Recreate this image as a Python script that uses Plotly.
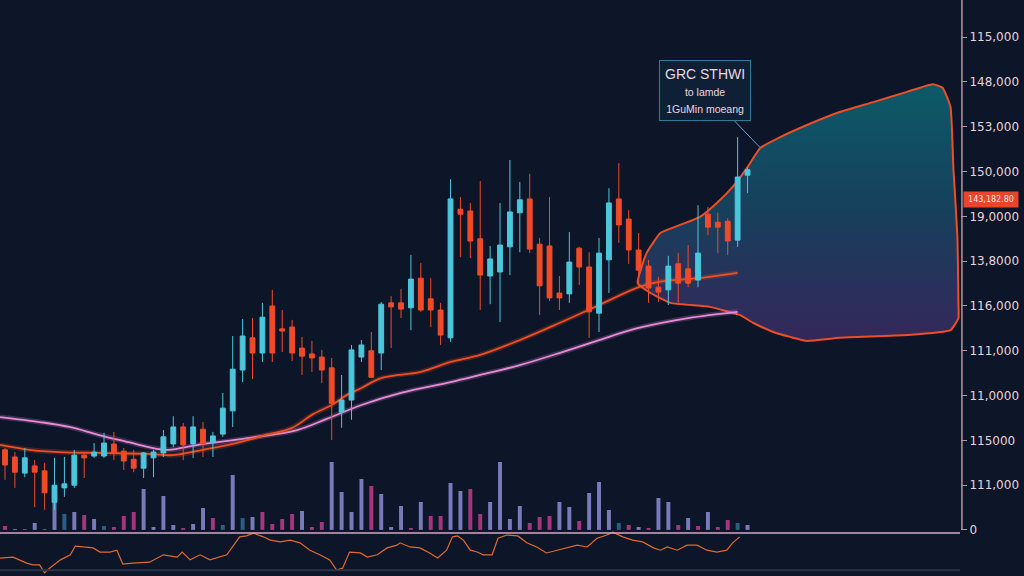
import plotly.graph_objects as go

# ---------------- data ----------------
candle_idx = list(range(76))
open_ = [17.9,16.3,12.7,14.3,13.2,6.2,9.4,10.0,16.7,16.5,16.5,19.2,17.6,15.8,13.8,16.1,17.2,19.2,23.0,19.2,
         22.5,19.6,21.4,26.6,35.7,42.9,39.5,50.0,44.9,45.3,40.6,39.3,38.6,36.2,26.3,29.0,38.6,40.0,39.5,50.7,
         50.7,49.6,56.2,51.6,49.1,42.9,71.6,71.2,65.0,56.7,57.6,63.2,70.8,73.9,63.8,63.4,52.9,52.7,62.9,58.7,
         48.4,60.3,73.9,69.4,62.5,58.9,54.2,53.6,59.4,58.3,55.8,70.5,68.7,68.9,64.7,79.2]
high = [18.3,17.4,18.3,15.6,15.0,16.1,16.3,17.9,17.2,19.4,21.7,21.9,18.3,17.9,17.4,17.9,22.3,25.4,23.9,25.4,
        24.1,21.9,30.6,43.3,47.1,47.3,50.7,53.6,49.1,46.9,43.1,42.2,40.2,38.4,34.6,41.3,42.4,44.2,50.9,52.2,
        53.8,61.4,59.6,56.2,50.7,78.3,74.3,73.0,77.9,63.4,73.0,82.6,77.7,79.5,65.2,74.3,56.7,66.5,63.2,62.0,
        65.2,76.3,81.9,71.4,66.3,60.3,56.5,61.2,61.8,63.6,72.5,72.1,70.8,69.6,87.7,81.0]
low = [11.2,9.4,11.8,5.1,4.5,4.5,7.4,9.4,11.6,16.1,16.1,15.6,13.4,12.9,11.6,11.8,16.3,18.5,15.6,16.1,
       16.3,16.3,20.8,23.0,33.0,33.7,37.5,37.5,39.7,37.7,34.6,35.3,32.8,20.1,22.8,24.6,37.5,33.9,35.7,40.6,
       47.3,44.6,48.7,45.3,41.3,42.0,60.9,60.7,49.1,50.4,46.4,56.9,62.0,61.8,48.0,51.1,49.1,50.7,54.7,42.9,
       44.2,52.9,64.1,59.4,55.1,50.7,50.9,50.2,50.2,54.2,54.2,65.8,61.8,61.4,63.2,75.2]
close = [14.5,12.9,16.1,12.9,8.3,10.0,10.3,16.7,16.1,17.4,19.4,17.2,15.4,13.8,17.2,17.4,20.8,23.0,19.0,23.0,
         19.2,21.0,27.2,35.9,43.3,39.5,47.5,39.5,44.4,39.5,38.8,38.4,35.7,28.3,29.0,40.2,41.3,34.1,50.4,49.8,
         49.3,56.0,49.1,49.1,43.5,73.9,70.5,64.5,56.9,60.5,63.6,71.0,73.7,62.7,54.5,51.8,51.8,59.8,58.7,48.7,
         61.8,73.0,68.1,62.5,58.0,54.0,53.1,58.9,55.1,55.1,61.8,67.6,67.6,64.5,78.8,80.4]

volume = [7,4,4,10,4,31,19,21,18,14,7,6,17,21,44,6,37,8,5,9,25,15,8,58,15,16,21,9,14,19,
          22,6,11,71,41,21,54,47,39,6,27,5,31,17,17,50,42,44,19,31,71,14,27,10,16,17,31,26,12,40,
          51,23,10,8,6,5,35,31,8,15,7,21,6,13,10,8]
volume_kind = list("MLMLMLTLMLTMMMLLLLMLLMTLTLMMMMLMMLLLLMLLLMLMMLLMMLLLLMMMLLMLLLTMLMLLMLMLMMTL")

ma_fast_x = [-0.5,2.5,5.5,9.5,14.5,17,20,23,26,29,31,33,34.5,36,38,42,45,48,52,56,60,64,66,70,74]
ma_fast = [19.0,17.9,17.4,17.2,17.0,16.7,17.9,19.2,21.0,22.8,25.7,27.9,30.1,31.7,33.9,35.3,37.5,39.1,
           42.4,46.2,50.2,54.2,55.4,56.2,57.4]
ma_slow_x = [-0.5,3.5,6.5,9.5,12.5,14.5,16.5,19.5,24.5,29.5,32.5,36,40,45,48,52,56,60,64,69,74]
ma_slow = [25.2,24.1,23.0,21.2,19.6,18.5,17.9,19.0,20.5,22.3,24.8,27.9,30.6,33.0,34.6,36.8,39.5,42.4,
           45.1,47.3,48.7]

osc_x = [-0.5,0.8,2.2,2.8,3.5,4.0,4.5,5.6,6.6,7.1,7.9,8.9,9.6,10.6,11.3,11.9,12.9,14.6,16.0,17.4,17.9,
         18.7,19.7,20.7,22.4,23.0,23.7,24.4,25.1,26.1,26.8,27.8,28.8,29.8,30.8,31.8,32.8,33.5,34.1,34.8,
         35.9,36.6,37.6,38.6,39.6,39.9,40.9,41.9,42.9,43.7,44.6,45.2,45.7,46.3,47.0,47.7,48.3,49.2,49.8,
         50.7,51.8,52.7,53.7,54.7,55.8,56.8,57.8,58.8,59.8,60.8,61.4,62.4,63.4,64.4,65.5,66.2,66.9,67.9,
         68.9,69.9,70.9,71.9,72.9,73.5,74.2]
osc = [39,41,28,24,24,7,17,35,46,65,63,61,52,52,56,26,28,30,46,41,52,35,46,35,46,63,85,87,93,85,78,74,
       78,72,56,46,35,13,17,52,50,41,46,61,67,72,63,61,50,39,56,85,87,78,56,52,46,46,82,89,87,72,63,50,
       56,63,67,63,82,89,95,85,78,74,61,56,63,56,67,67,56,52,56,72,85]

cloud_x = [63.9,64.8,66.2,68.2,70.2,71.9,73.5,75.0,76.3,78.3,81.0,84.3,87.7,91.1,93.7,94.7,95.5,95.8,
           96.2,96.3,96.3,95.5,91.1,84.3,81.0,79.3,77.6,75.6,74.2,71.2,67.2,65.2,63.9]
cloud_y = [55.1,61.8,66.3,68.1,69.9,73.0,76.6,81.0,85.3,87.7,90.4,93.3,95.5,97.8,99.5,98.7,94.4,80.4,
           65.4,50.7,47.3,44.6,43.5,42.9,42.2,43.1,44.2,46.2,48.0,49.8,50.7,52.9,55.1]

tick_vals = [0,10,20,30,40,50,60,70,80,90,100,110]
tick_text = ["0","111,000","115000","11,0000","111,000","116,000","13,8000","19,0000",
             "150,000","153,000","148,000","115,000"]
last_price = 73.7
last_price_text = "143,182.80"
note_tip = (76.3, 85.3)
note_text = ("<span style='font-size:14px'>GRC STHWI</span><br>"
             "<span style='font-size:10.5px'>to lamde</span><br>"
             "<span style='font-size:10.5px'>1GuMin moeang</span>")

# ---------------- colours ----------------
BG = "#0c1628"
UP = "#4cc6db"
DOWN = "#f04b28"
kind_color = {"L": "rgba(140,140,210,0.85)", "M": "rgba(190,60,140,0.85)", "T": "rgba(50,120,160,0.75)"}

fig = go.Figure()

# forecast cloud (base subplot, drawn underneath)
fig.add_trace(go.Scatter(
    x=cloud_x, y=cloud_y, mode="lines", fill="toself",
    line=dict(color="#ee4e26", width=2, shape="spline", smoothing=0.4),
    fillgradient=dict(type="vertical", colorscale=[[0, "#35275a"], [0.5, "#173f5c"], [1, "#0c5a68"]]),
    hoverinfo="skip", showlegend=False))

# moving averages (glow + line)
for xs, ys, col, glow in [(ma_slow_x, ma_slow, "#e88ad8", "rgba(232,138,216,0.22)"),
                          (ma_fast_x, ma_fast, "#f04e22", "rgba(240,78,34,0.22)")]:
    fig.add_trace(go.Scatter(x=xs, y=ys, mode="lines", line=dict(color=glow, width=5, shape="spline"),
                             hoverinfo="skip", showlegend=False))
    fig.add_trace(go.Scatter(x=xs, y=ys, mode="lines", line=dict(color=col, width=1.8, shape="spline"),
                             hoverinfo="skip", showlegend=False))

# volume
fig.add_trace(go.Bar(
    x=candle_idx, y=volume, yaxis="y2", width=0.4,
    marker=dict(color=[kind_color[k] for k in volume_kind], line=dict(width=0)),
    showlegend=False, hoverinfo="skip"))

# candles on an overlay axis so they sit above the cloud and lines
fig.add_trace(go.Candlestick(
    x=candle_idx, open=open_, high=high, low=low, close=close, yaxis="y4",
    increasing=dict(line=dict(color=UP, width=1), fillcolor=UP),
    decreasing=dict(line=dict(color=DOWN, width=1), fillcolor=DOWN),
    whiskerwidth=0, showlegend=False, hoverinfo="skip"))

# oscillator
fig.add_trace(go.Scatter(x=osc_x, y=osc, yaxis="y3", mode="lines",
                         line=dict(color="#e2692e", width=1.2), hoverinfo="skip", showlegend=False))

YR = [-10.27, 118.3]
fig.update_layout(
    width=1024, height=576,
    margin=dict(l=0, r=64, t=0, b=0),
    paper_bgcolor=BG, plot_bgcolor=BG,
    showlegend=False,
    xaxis=dict(range=[-0.505, 96.46], visible=False, rangeslider=dict(visible=False), fixedrange=True),
    yaxis=dict(range=YR, side="right", tickvals=tick_vals, ticktext=tick_text,
               showgrid=False, zeroline=False, showline=False,
               ticks="outside", ticklen=6, tickcolor="#b8949f", tickwidth=1,
               tickfont=dict(family="DejaVu Sans", size=12, color="#e6d3da")),
    yaxis2=dict(range=[-43, 533], overlaying="y", visible=False, fixedrange=True),
    yaxis3=dict(domain=[0, 0.08], range=[0, 100], visible=False, anchor="x"),
    yaxis4=dict(range=YR, overlaying="y", visible=False, fixedrange=True),
    shapes=[
        dict(type="line", xref="paper", yref="y", x0=1.002, x1=1.002, y0=0, y1=YR[1],
             line=dict(color="#b8949f", width=1.5)),
        dict(type="line", xref="paper", yref="y2", x0=0, x1=1.0, y0=0, y1=0,
             line=dict(color="#d9a6c8", width=1.5)),
        dict(type="line", xref="paper", yref="paper", x0=0, x1=1.0, y0=0.01, y1=0.01,
             line=dict(color="#2c3248", width=2)),
    ],
    annotations=[
        dict(xref="paper", yref="y", x=1.003, y=last_price, xanchor="left", yanchor="middle",
             text=last_price_text, showarrow=False, bgcolor="#e8452a", width=52, height=13,
             font=dict(family="DejaVu Sans", size=8, color="#fbe6e0")),
        dict(x=note_tip[0], y=note_tip[1], xref="x", yref="y", text=note_text,
             showarrow=True, arrowhead=0, arrowwidth=1, arrowcolor="#5aa0c8", ax=-55, ay=-57,
             bgcolor="#0f2036", bordercolor="#2f7a98", borderwidth=1, borderpad=5,
             font=dict(family="Liberation Sans", size=13, color="#ecd6e0"), align="center"),
    ],
)

fig.write_html("out.html", config={"displayModeBar": False},
               post_script="document.body.style.margin='0';")
